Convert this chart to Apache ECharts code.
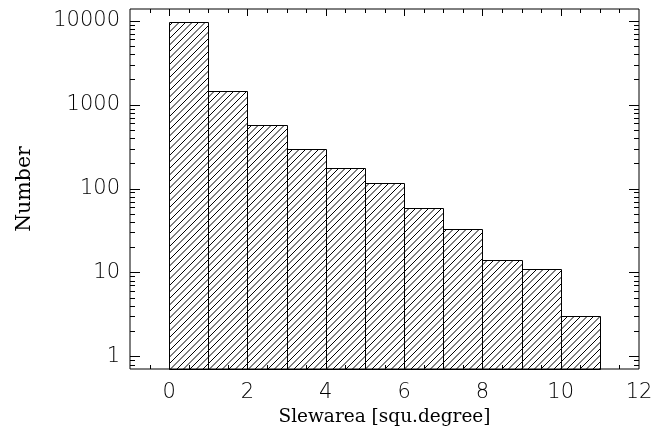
<!DOCTYPE html>
<html><head><meta charset="utf-8">
<script src="https://cdn.jsdelivr.net/npm/echarts@6/dist/echarts.min.js"></script>
<style>html,body{margin:0;padding:0;background:#fff}#c{width:670px;height:438px}</style>
</head><body><div id="c"></div>
<script>
// ---- data ----
const binStarts = [0, 1, 2, 3, 4, 5, 6, 7, 8, 9, 10];
const binWidth = 1;
const counts = [9600, 1450, 580, 300, 176, 116, 59, 33, 14, 11, 3];
const xTickLabels = [0, 2, 4, 6, 8, 10, 12];
const yTickLabels = [1, 10, 100, 1000, 10000];
const xTitle = 'Slewarea [squ.degree]';
const yTitle = 'Number';

// ---- axis ranges (log space for y) ----
const xMin = -1, xMax = 12;
const yMinLog = -0.15, yMaxLog = 4.14;

// hatch pattern
const P = 13;
const cv = document.createElement('canvas');
cv.width = P; cv.height = P;
const g = cv.getContext('2d');
g.strokeStyle = '#000'; g.lineWidth = 1;
[0, 6.5, 13, 19.5, 26].forEach(c => {
  g.beginPath(); g.moveTo(c + 2, -2); g.lineTo(-2, c + 2); g.stroke();
});

const barData = binStarts.map((s, i) => [s, Math.log10(counts[i])]);

// tick marks (decoration) built from axis ticks
const tickData = [];
for (let v = -0.5; v <= 11.5 + 1e-9; v += 0.5) {
  const major = xTickLabels.indexOf(v) >= 0;
  tickData.push(['x', v, major ? 7 : 4]);
}
for (let k = -1; k <= 4; k++) {
  for (let m = 1; m <= 9; m++) {
    const lv = k + Math.log10(m);
    if (lv < yMinLog || lv > yMaxLog) continue;
    tickData.push(['y', lv, m === 1 ? 10 : 5]);
  }
}

const chart = echarts.init(document.getElementById('c'), null, {renderer: 'canvas'});
const labelFont = {fontFamily: 'DejaVu Sans', fontSize: 21, fontWeight: 200, color: '#000'};

chart.setOption({
  animation: false,
  backgroundColor: '#fff',
  grid: {left: 130, right: 31, top: 9, bottom: 69, show: true, borderColor: '#000', borderWidth: 1, backgroundColor: 'transparent'},
  xAxis: {
    type: 'value', min: xMin, max: xMax, interval: 1,
    name: xTitle, nameLocation: 'middle', nameGap: 39,
    nameTextStyle: {fontFamily: 'DejaVu Serif', fontSize: 18.5, color: '#000'},
    axisLine: {show: false}, axisTick: {show: false}, splitLine: {show: false},
    axisLabel: Object.assign({margin: 13, formatter: v => {
      const r = Math.round(v);
      return (Math.abs(v - r) < 1e-6 && xTickLabels.indexOf(r) >= 0) ? String(r) : '';
    }}, labelFont)
  },
  yAxis: {
    type: 'value', min: yMinLog, max: yMaxLog, interval: 0.05,
    name: yTitle, nameLocation: 'middle', nameGap: 95,
    nameTextStyle: {fontFamily: 'DejaVu Serif', fontSize: 20.5, color: '#000'},
    axisLine: {show: false}, axisTick: {show: false}, splitLine: {show: false},
    axisLabel: Object.assign({margin: 10, interval: 0, formatter: v => {
      const r = Math.round(v);
      if (Math.abs(v - r) > 1e-6) return '';
      const val = Math.pow(10, r);
      return yTickLabels.indexOf(val) >= 0 ? String(val) : '';
    }}, labelFont)
  },
  series: [
    {
      type: 'custom', data: barData, encode: {x: 0, y: 1},
      renderItem: (params, api) => {
        const x0 = api.value(0), y = api.value(1);
        const p1 = api.coord([x0, y]);
        const p2 = api.coord([x0 + binWidth, yMinLog]);
        const l = Math.round(p1[0]) + 0.5, r = Math.round(p2[0]) + 0.5;
        const t = Math.round(p1[1]) + 0.5, b = Math.round(p2[1]) + 0.5;
        return {type: 'rect', shape: {x: l, y: t, width: r - l, height: b - t},
          style: {fill: {image: cv, repeat: 'repeat'}, stroke: '#000', lineWidth: 1}};
      }
    },
    {
      type: 'custom', data: tickData.map(d => [d[0] === 'x' ? 0 : 1, d[1], d[2]]),
      silent: true, clip: false,
      renderItem: (params, api) => {
        const isX = api.value(0) === 0, v = api.value(1), len = api.value(2);
        const st = {stroke: '#000', lineWidth: 1};
        if (isX) {
          const a = api.coord([v, yMinLog]), b = api.coord([v, yMaxLog]);
          const x = Math.round(a[0]) + 0.5;
          return {type: 'group', children: [
            {type: 'line', shape: {x1: x, y1: a[1], x2: x, y2: a[1] - len}, style: st},
            {type: 'line', shape: {x1: x, y1: b[1], x2: x, y2: b[1] + len}, style: st}
          ]};
        }
        const a = api.coord([xMin, v]), b = api.coord([xMax, v]);
        const y = Math.round(a[1]) + 0.5;
        return {type: 'group', children: [
          {type: 'line', shape: {x1: a[0], y1: y, x2: a[0] + len, y2: y}, style: st},
          {type: 'line', shape: {x1: b[0], y1: y, x2: b[0] - len, y2: y}, style: st}
        ]};
      }
    }
  ]
});
</script></body></html>
